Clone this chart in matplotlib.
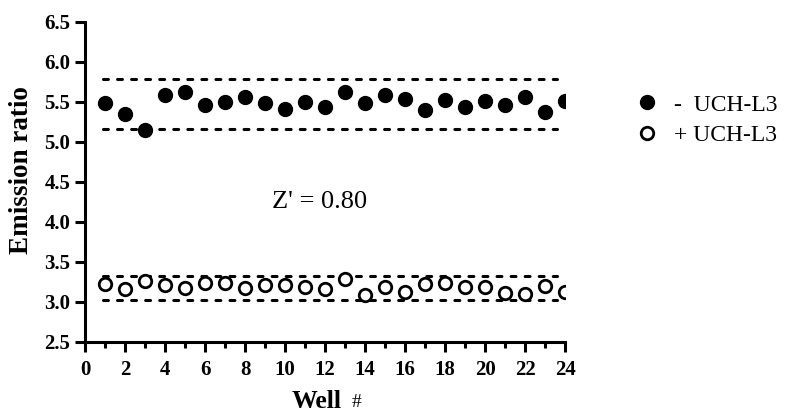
import numpy as np
import matplotlib.pyplot as plt
from matplotlib.ticker import MultipleLocator

# values
wells = np.arange(1, 25)
minus_uch = [5.49, 5.35, 5.15, 5.59, 5.62, 5.46, 5.50, 5.56, 5.49, 5.41, 5.50, 5.44,
             5.62, 5.48, 5.59, 5.53, 5.40, 5.52, 5.43, 5.51, 5.46, 5.56, 5.37, 5.51]
plus_uch = [3.22, 3.155, 3.26, 3.21, 3.175, 3.23, 3.24, 3.175, 3.21, 3.205, 3.19, 3.155,
            3.28, 3.09, 3.19, 3.125, 3.22, 3.24, 3.19, 3.18, 3.105, 3.10, 3.20, 3.12]

# 3 sigma bands
minus_limits = [5.78, 5.16]
plus_limits = [3.32, 3.02]
line_span = [0.9, 23.6]

z_text = "Z' = 0.80"

plt.rcParams['font.family'] = ['Liberation Serif', 'DejaVu Serif']

fig = plt.figure(figsize=(7.9, 4.16), dpi=100)
ax = fig.add_axes([0.1076, 0.1786, 0.6076, 0.7692])

for lim in minus_limits + plus_limits:
    ax.plot(line_span, [lim, lim], color='black', lw=2.2,
            linestyle=(0, (1.6, 3.0)), dash_capstyle='round', zorder=1)

ax.plot(wells, minus_uch, 'o', color='black', ms=10, ls='none',
        label='-  UCH-L3', zorder=3)
ax.plot(wells, plus_uch, 'o', mfc='white', mec='black', mew=2, ms=9,
        ls='none', label='+ UCH-L3', zorder=3)

ax.text(11.75, 4.25, z_text, fontsize=19, ha='center', va='center')

ax.set_xlim(0, 24)
ax.set_ylim(2.5, 6.5)
ax.xaxis.set_major_locator(MultipleLocator(2))
ax.xaxis.set_minor_locator(MultipleLocator(1))
ax.yaxis.set_major_locator(MultipleLocator(0.5))
ax.yaxis.set_major_formatter(plt.FormatStrFormatter('%.1f'))

for s in ['top', 'right']:
    ax.spines[s].set_visible(False)
for s in ['left', 'bottom']:
    ax.spines[s].set_linewidth(2.2)
ax.tick_params(which='major', length=7, width=2.2, labelsize=15)
ax.tick_params(which='minor', length=4, width=2.2)
ax.tick_params(axis='x', pad=6)
for lab in ax.get_xticklabels() + ax.get_yticklabels():
    lab.set_fontweight('bold')

ax.set_ylabel('Emission ratio', fontsize=19.5, fontweight='bold')
ax.yaxis.set_label_coords(-0.107, 0.537)

# x label: "Well" bold, "#" plain
fig.text(0.401, 0.008, 'Well', fontsize=18.5, fontweight='bold', ha='center', va='bottom')
fig.text(0.445, 0.012, '#', fontsize=14, ha='left', va='bottom')

fig.legend(loc='upper left', bbox_to_anchor=(0.777, 0.825), frameon=False,
           fontsize=17, handletextpad=0.65, labelspacing=0.38, handlelength=1)

fig.savefig('out.png', dpi=100)
